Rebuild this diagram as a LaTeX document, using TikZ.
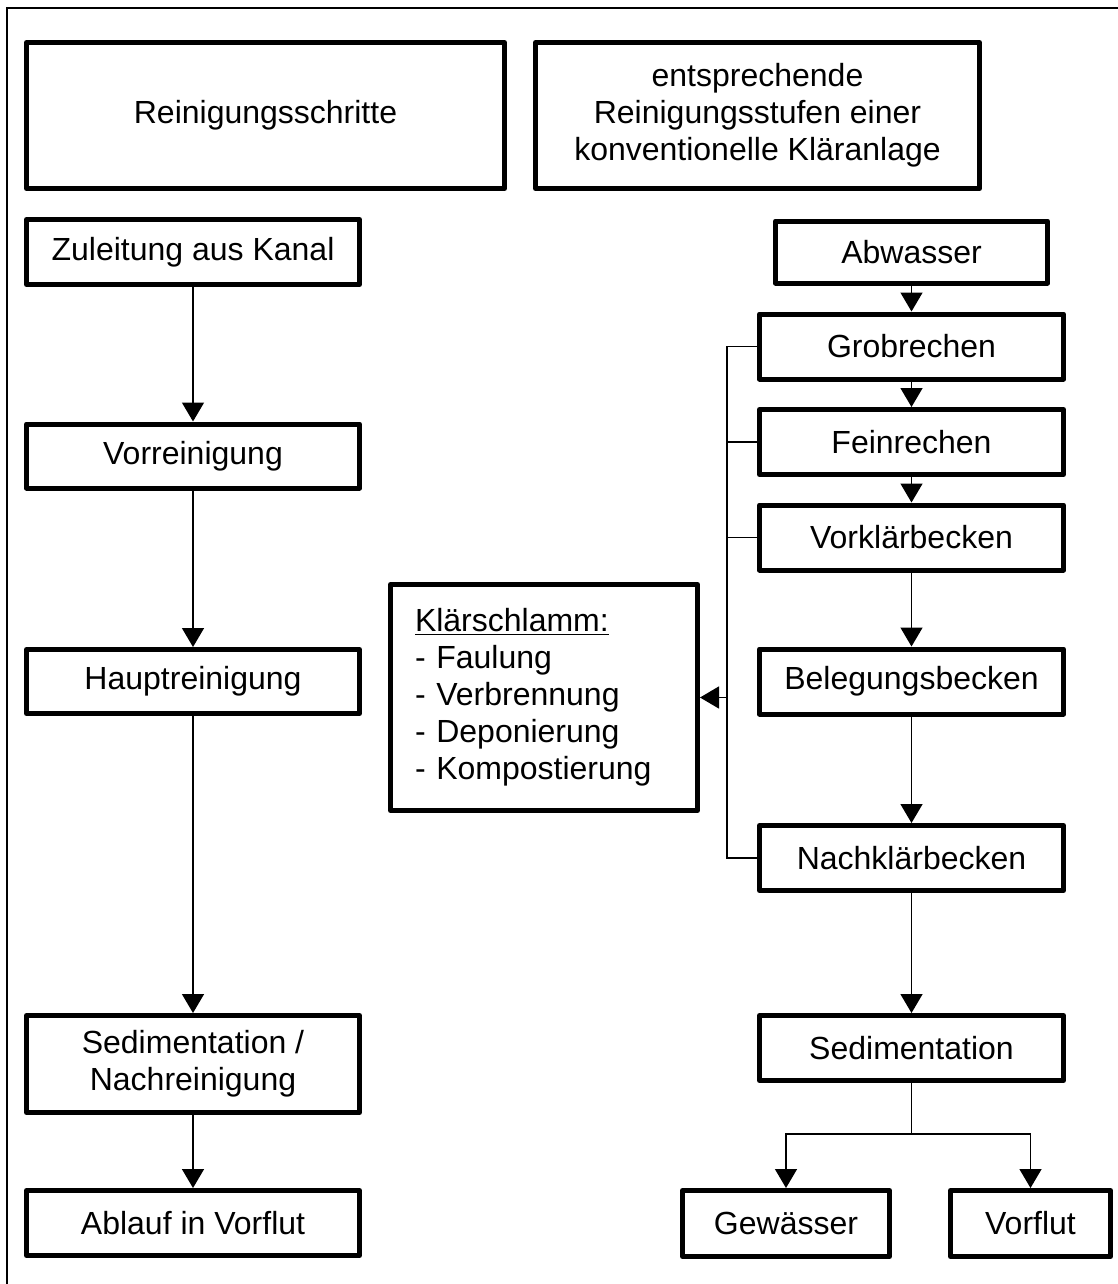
\documentclass[tikz,border=0pt]{standalone}
\usepackage{fontspec}
\setmainfont{Liberation Sans}
\usetikzlibrary{arrows.meta}

\begin{document}
\begin{tikzpicture}[x=0.5pt, y=-0.5pt,
	box/.style={draw, line width=2.5pt, line join=round, align=center, inner sep=0pt, font=\fontsize{16}{18.5}\selectfont},
	lcol/.style={box, minimum width=166.5pt, minimum height=32pt},
	rcol/.style={box, minimum width=152pt, minimum height=32.5pt},
	conn/.style={line width=0.75pt},
	arr/.style={conn, -{Triangle[length=9.5pt, width=11pt]}}]
	\useasboundingbox (0,0) rectangle (1118,1284);
	\draw[line width=1pt] (7,8) rectangle (1130,1300);

	% headings
	\node[box, minimum width=239pt, minimum height=73pt] (head1) at (265.5,115.5) {Reinigungsschritte};
	\node[box, minimum width=222pt, minimum height=73pt] (head2) at (757.5,115.5) {entsprechende\\Reinigungsstufen einer\\konventionelle Kläranlage};

	% left column
	\node[lcol, minimum height=32.5pt] (zul) at (193,252) {Zuleitung aus Kanal};
	\node[lcol] (vor) at (193,456) {Vorreinigung};
	\node[lcol] (haupt) at (193,681.5) {Hauptreinigung};
	\node[lcol, minimum height=48.5pt] (sed1) at (193,1064) {Sedimentation /\\Nachreinigung};
	\node[lcol, minimum height=32.5pt] (abl) at (193,1223) {Ablauf in Vorflut};

	\draw[arr] (zul) -- (vor);
	\draw[arr] (vor) -- (haupt);
	\draw[arr] (haupt) -- (sed1);
	\draw[arr] (sed1) -- (abl);

	% right column
	\node[rcol, minimum width=136pt, minimum height=31pt] (abw) at (911.5,252) {Abwasser};
	\node[rcol] (grob) at (911.5,346.5) {Grobrechen};
	\node[rcol] (fein) at (911.5,442) {Feinrechen};
	\node[rcol] (vork) at (911.5,537.5) {Vorklärbecken};
	\node[rcol] (beleg) at (911.5,681.5) {Belegungsbecken};
	\node[rcol] (nach) at (911.5,858) {Nachklärbecken};
	\node[rcol] (sed2) at (911.5,1048) {Sedimentation};
	\node[box, minimum width=103.5pt, minimum height=33pt] (gew) at (786,1223.5) {Gewässer};
	\node[box, minimum width=80pt, minimum height=33pt] (vfl) at (1030.5,1223.5) {Vorflut};

	\draw[arr] (abw) -- (grob);
	\draw[arr] (grob) -- (fein);
	\draw[arr] (fein) -- (vork);
	\draw[arr] (vork) -- (beleg);
	\draw[arr] (beleg) -- (nach);
	\draw[arr] (nach) -- (sed2);

	\coordinate (split) at (911.5,1134);
	\draw[conn] (sed2) -- (split);
	\draw[arr] (split) -| (gew.north);
	\draw[arr] (split) -| (vfl.north);

	% sludge
	\node[box, minimum width=153.5pt, minimum height=113pt, inner xsep=12.25pt, text width=129pt, align=left] (kls) at (544,697.5)
		{\underline{Klärschlamm:}\\- Faulung\\- Verbrennung\\- Deponierung\\- Kompostierung};

	\coordinate (bus) at (727,0);
	\draw[conn] (grob.west) -- (grob.west -| bus) -- (nach.west -| bus) -- (nach.west);
	\draw[conn] (fein.west) -- (fein.west -| bus);
	\draw[conn] (vork.west) -- (vork.west -| bus);
	\draw[arr] (bus |- kls.east) -- (kls.east);
\end{tikzpicture}
\end{document}
